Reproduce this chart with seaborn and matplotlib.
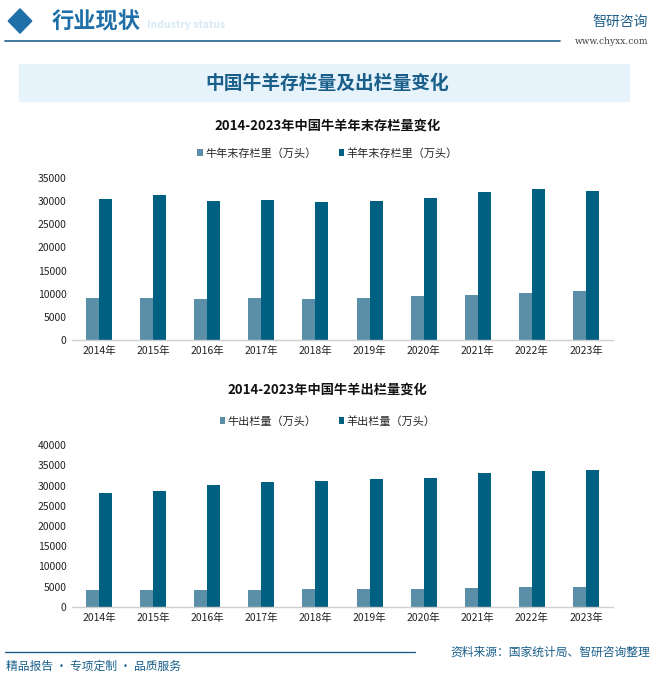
import matplotlib
matplotlib.use("Agg")
import matplotlib.pyplot as plt
import matplotlib.patches as mpatches
import seaborn as sns
import pandas as pd

years = ["2014年", "2015年", "2016年", "2017年", "2018年", "2019年", "2020年", "2021年", "2022年", "2023年"]
cattle_stock = [9150, 9150, 8870, 9150, 8880, 9140, 9570, 9820, 10220, 10510]
sheep_stock = [30500, 31350, 30100, 30300, 29800, 30070, 30700, 32000, 32630, 32230]
cattle_out = [4200, 4210, 4230, 4230, 4400, 4530, 4560, 4710, 4840, 5020]
sheep_out = [28200, 28700, 30100, 30800, 31000, 31700, 31900, 33050, 33620, 33860]

label_cs = "牛年末存栏里（万头）"
label_ss = "羊年末存栏里（万头）"
label_co = "牛出栏量（万头）"
label_so = "羊出栏量（万头）"

c_light = "#5b8fa8"
c_dark = "#006082"

sns.set_theme(style="white")
plt.rcParams["font.family"] = ["Noto Sans CJK SC", "DejaVu Sans"]

W, H = 655, 676
fig = plt.figure(figsize=(W / 100, H / 100), dpi=100)
fig.patch.set_facecolor("white")

def fx(x):
    return x / W

def fy(y):
    return 1 - y / H

# header
fig.patches.append(mpatches.RegularPolygon((fx(20), fy(21)), 4, radius=0.018, orientation=0,
                                           transform=fig.transFigure, color="#1f6fa8"))
fig.text(fx(52), fy(22), "行业现状", fontsize=16, color="#1f6fa8", va="center", ha="left", weight="bold")
fig.text(fx(147), fy(25), "Industry status", fontsize=7.5, color="#d6e9f6", va="center", ha="left",
         weight="bold", zorder=0)
fig.lines.append(plt.Line2D([fx(5), fx(560)], [fy(41), fy(41)], transform=fig.transFigure, color="#1f5f8a", lw=1.2))
fig.text(fx(648), fy(22), "智研咨询", fontsize=10, color="#1f5f8a", va="center", ha="right")
fig.text(fx(648), fy(42), "www.chyxx.com", fontsize=6.5, color="#444444", va="center", ha="right", family="DejaVu Serif")

# banner
fig.patches.append(mpatches.Rectangle((fx(19), fy(101)), fx(610), 37 / H, transform=fig.transFigure,
                                      color="#e6f3fb", zorder=0))
fig.text(0.5, fy(83), "中国牛羊存栏量及出栏量变化", fontsize=13.5, color="#1a5f8a", weight="bold",
         ha="center", va="center")

def draw(ax, vals1, vals2, l1, l2, ymax, step, title, title_y, legend_y):
    df = pd.DataFrame({
        "year": years * 2,
        "value": list(vals1) + list(vals2),
        "series": [l1] * len(years) + [l2] * len(years),
    })
    sns.barplot(data=df, x="year", y="value", hue="series", palette=[c_light, c_dark],
                width=0.48, gap=0, ax=ax, saturation=1, linewidth=0, edgecolor="none")
    ax.set_ylim(0, ymax)
    ax.set_yticks(range(0, ymax + 1, step))
    ax.set_xlabel("")
    ax.set_ylabel("")
    for s in ["top", "right", "left"]:
        ax.spines[s].set_visible(False)
    ax.spines["bottom"].set_color("#cfcfcf")
    ax.spines["bottom"].set_linewidth(1)
    ax.tick_params(axis="both", labelsize=7.5, colors="#222222", length=0, pad=4)
    ax.set_facecolor("none")
    h, lab = ax.get_legend_handles_labels()
    ax.get_legend().remove()
    fig.legend(h, lab, loc="center", bbox_to_anchor=(0.5, fy(legend_y)), ncol=2, frameon=False,
               fontsize=8, handlelength=0.5, handleheight=0.5, handletextpad=0.2, columnspacing=2.0)
    fig.text(0.5, fy(title_y), title, fontsize=9.5, weight="bold", ha="center", va="center", color="#111111")

ax1 = fig.add_axes([fx(72), fy(340), fx(541), 162 / H])
draw(ax1, cattle_stock, sheep_stock, label_cs, label_ss, 35000, 5000,
     "2014-2023年中国牛羊年末存栏量变化", 126, 153)

ax2 = fig.add_axes([fx(72), fy(607), fx(541), 162 / H])
draw(ax2, cattle_out, sheep_out, label_co, label_so, 40000, 5000,
     "2014-2023年中国牛羊出栏量变化", 390, 421)

# footer
fig.lines.append(plt.Line2D([fx(5), fx(415)], [fy(652), fy(652)], transform=fig.transFigure, color="#1f5f8a", lw=1.0))
fig.text(fx(650), fy(652), "资料来源：国家统计局、智研咨询整理", fontsize=8.5, color="#1a5f8a", ha="right", va="center")
fig.text(fx(6), fy(666), "精品报告 · 专项定制 · 品质服务", fontsize=8.5, color="#1a5f8a", ha="left", va="center")

fig.savefig("out.png", dpi=100)
